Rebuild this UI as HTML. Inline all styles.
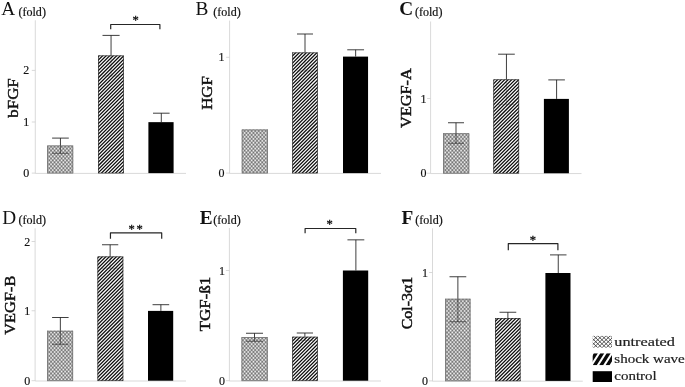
<!DOCTYPE html>
<html><head><meta charset="utf-8"><title>Figure</title>
<style>
html,body{margin:0;padding:0;background:#fff;}
body{width:685px;height:387px;overflow:hidden;}
svg{display:block;font-family:"Liberation Serif",serif;filter:blur(0.45px);}
</style></head><body>
<svg width="685" height="387" viewBox="0 0 685 387">
<rect width="685" height="387" fill="#fff"/>

<g id="panelA">
<path d="M35.3 20.3V173.4H186" fill="none" stroke="#cfcfcf" stroke-width="0.8"/>
<path d="M31.799999999999997 70.4H35.3" stroke="#cfcfcf" stroke-width="0.8"/>
<text x="29.3" y="74.4" font-size="12" text-anchor="end" fill="#111" stroke="#111" stroke-width="0.15">2</text>
<path d="M31.799999999999997 122H35.3" stroke="#cfcfcf" stroke-width="0.8"/>
<text x="29.3" y="126.0" font-size="12" text-anchor="end" fill="#111" stroke="#111" stroke-width="0.15">1</text>
<path d="M31.799999999999997 173.1H35.3" stroke="#cfcfcf" stroke-width="0.8"/>
<text x="29.3" y="177.1" font-size="12" text-anchor="end" fill="#111" stroke="#111" stroke-width="0.15">0</text>
<text x="1.3" y="15.0" font-size="19.3" font-weight="normal" fill="#111">A</text>
<text x="18.5" y="16.2" font-size="12.5" textLength="27.4" lengthAdjust="spacingAndGlyphs" fill="#111" stroke="#111" stroke-width="0.2">(fold)</text>
<text transform="translate(17.6 117.65) rotate(-90)" font-size="14" textLength="39.3" lengthAdjust="spacingAndGlyphs" fill="#111" stroke="#111" stroke-width="0.45">bFGF</text>
<clipPath id="cA0"><rect x="47.1" y="145.5" width="26.1" height="27.6"/></clipPath>
<rect x="47.1" y="145.5" width="26.1" height="27.6" fill="#efefef"/>
<path clip-path="url(#cA0)" d="M42.43 144.5L15.79 174.1M45.95 144.5L19.31 174.1M49.47 144.5L22.83 174.1M52.99 144.5L26.35 174.1M56.51 144.5L29.87 174.1M60.03 144.5L33.39 174.1M63.55 144.5L36.91 174.1M67.07 144.5L40.43 174.1M70.59 144.5L43.95 174.1M74.11 144.5L47.47 174.1M77.63 144.5L50.99 174.1M81.15 144.5L54.51 174.1M84.67 144.5L58.03 174.1M88.19 144.5L61.55 174.1M91.71 144.5L65.07 174.1M95.23 144.5L68.59 174.1M98.75 144.5L72.11 174.1M102.27 144.5L75.63 174.1" stroke="#000" stroke-opacity="0.31" stroke-width="1.3" fill="none"/>
<path clip-path="url(#cA0)" d="M17.41 144.5L44.05 174.1M20.93 144.5L47.57 174.1M24.45 144.5L51.09 174.1M27.97 144.5L54.61 174.1M31.49 144.5L58.13 174.1M35.01 144.5L61.65 174.1M38.53 144.5L65.17 174.1M42.05 144.5L68.69 174.1M45.57 144.5L72.21 174.1M49.09 144.5L75.73 174.1M52.61 144.5L79.25 174.1M56.13 144.5L82.77 174.1M59.65 144.5L86.29 174.1M63.17 144.5L89.81 174.1M66.69 144.5L93.33 174.1M70.21 144.5L96.85 174.1M73.73 144.5L100.37 174.1" stroke="#000" stroke-opacity="0.31" stroke-width="1.3" fill="none"/>
<rect x="47.55" y="145.95" width="25.2" height="27.15" fill="none" stroke="#7a7a7a" stroke-width="0.9"/>
<path d="M52.1 138.1H68.8M60.45 138.1V145.5" stroke="#1c1c1c" stroke-width="0.85" fill="none"/>
<path d="M52.1 153.25H68.8M60.45 145.5V153.25" stroke="#1c1c1c" stroke-width="0.85" fill="none" opacity="0.7"/>
<clipPath id="cA1"><rect x="98" y="55.5" width="25.8" height="117.6"/></clipPath>
<rect x="98" y="55.5" width="25.8" height="117.6" fill="#fbfbfb"/>
<path clip-path="url(#cA1)" d="M93.34 54.5L-26.26 174.1M96.86 54.5L-22.74 174.1M100.38 54.5L-19.22 174.1M103.9 54.5L-15.7 174.1M107.42 54.5L-12.18 174.1M110.94 54.5L-8.66 174.1M114.46 54.5L-5.14 174.1M117.98 54.5L-1.62 174.1M121.5 54.5L1.9 174.1M125.02 54.5L5.42 174.1M128.54 54.5L8.94 174.1M132.06 54.5L12.46 174.1M135.58 54.5L15.98 174.1M139.1 54.5L19.5 174.1M142.62 54.5L23.02 174.1M146.14 54.5L26.54 174.1M149.66 54.5L30.06 174.1M153.18 54.5L33.58 174.1M156.7 54.5L37.1 174.1M160.22 54.5L40.62 174.1M163.74 54.5L44.14 174.1M167.26 54.5L47.66 174.1M170.78 54.5L51.18 174.1M174.3 54.5L54.7 174.1M177.82 54.5L58.22 174.1M181.34 54.5L61.74 174.1M184.86 54.5L65.26 174.1M188.38 54.5L68.78 174.1M191.9 54.5L72.3 174.1M195.42 54.5L75.82 174.1M198.94 54.5L79.34 174.1M202.46 54.5L82.86 174.1M205.98 54.5L86.38 174.1M209.5 54.5L89.9 174.1M213.02 54.5L93.42 174.1M216.54 54.5L96.94 174.1M220.06 54.5L100.46 174.1M223.58 54.5L103.98 174.1M227.1 54.5L107.5 174.1M230.62 54.5L111.02 174.1M234.14 54.5L114.54 174.1M237.66 54.5L118.06 174.1M241.18 54.5L121.58 174.1M244.7 54.5L125.1 174.1" stroke="#0c0c0c" stroke-width="1.24" fill="none"/>
<rect x="98.35" y="55.85" width="25.1" height="117.25" fill="none" stroke="#333" stroke-width="0.7"/>
<path d="M102.5 35.4H119.6M111.05 35.4V55.5" stroke="#1c1c1c" stroke-width="0.85" fill="none"/>
<path d="M102.5 76H119.6M111.05 55.5V76" stroke="#1c1c1c" stroke-width="0.85" fill="none" opacity="0.3"/>
<rect x="148.4" y="122.15" width="25.2" height="50.95" fill="#000"/>
<path d="M153 113.2H169.6M161.3 113.2V122.15" stroke="#1c1c1c" stroke-width="0.85" fill="none"/>
<path d="M110.7 29.3V24.5H159.9V29.3" fill="none" stroke="#262626" stroke-width="1.2" stroke-linejoin="round"/>
<text x="135.5" y="24.4" font-size="12.5" text-anchor="middle" fill="#111" stroke="#111" stroke-width="0.35">*</text>
</g>
<g id="panelB">
<path d="M229.6 20.6V173.4H381" fill="none" stroke="#cfcfcf" stroke-width="0.8"/>
<path d="M226.1 57.3H229.6" stroke="#cfcfcf" stroke-width="0.8"/>
<text x="224.4" y="61.3" font-size="12" text-anchor="end" fill="#111" stroke="#111" stroke-width="0.15">1</text>
<path d="M226.1 173.1H229.6" stroke="#cfcfcf" stroke-width="0.8"/>
<text x="224.4" y="177.1" font-size="12" text-anchor="end" fill="#111" stroke="#111" stroke-width="0.15">0</text>
<text x="195.5" y="15.1" font-size="19.3" font-weight="normal" fill="#111">B</text>
<text x="213.3" y="16.2" font-size="12.5" textLength="27.4" lengthAdjust="spacingAndGlyphs" fill="#111" stroke="#111" stroke-width="0.2">(fold)</text>
<text transform="translate(212.4 109.8) rotate(-90)" font-size="14" textLength="33.6" lengthAdjust="spacingAndGlyphs" fill="#111" stroke="#111" stroke-width="0.45">HGF</text>
<clipPath id="cB0"><rect x="241.75" y="129.5" width="26.25" height="43.6"/></clipPath>
<rect x="241.75" y="129.5" width="26.25" height="43.6" fill="#efefef"/>
<path clip-path="url(#cB0)" d="M236.35 128.5L195.31 174.1M239.87 128.5L198.83 174.1M243.39 128.5L202.35 174.1M246.91 128.5L205.87 174.1M250.43 128.5L209.39 174.1M253.95 128.5L212.91 174.1M257.47 128.5L216.43 174.1M260.99 128.5L219.95 174.1M264.51 128.5L223.47 174.1M268.03 128.5L226.99 174.1M271.55 128.5L230.51 174.1M275.07 128.5L234.03 174.1M278.59 128.5L237.55 174.1M282.11 128.5L241.07 174.1M285.63 128.5L244.59 174.1M289.15 128.5L248.11 174.1M292.67 128.5L251.63 174.1M296.19 128.5L255.15 174.1M299.71 128.5L258.67 174.1M303.23 128.5L262.19 174.1M306.75 128.5L265.71 174.1M310.27 128.5L269.23 174.1" stroke="#000" stroke-opacity="0.31" stroke-width="1.3" fill="none"/>
<path clip-path="url(#cB0)" d="M196.61 128.5L237.65 174.1M200.13 128.5L241.17 174.1M203.65 128.5L244.69 174.1M207.17 128.5L248.21 174.1M210.69 128.5L251.73 174.1M214.21 128.5L255.25 174.1M217.73 128.5L258.77 174.1M221.25 128.5L262.29 174.1M224.77 128.5L265.81 174.1M228.29 128.5L269.33 174.1M231.81 128.5L272.85 174.1M235.33 128.5L276.37 174.1M238.85 128.5L279.89 174.1M242.37 128.5L283.41 174.1M245.89 128.5L286.93 174.1M249.41 128.5L290.45 174.1M252.93 128.5L293.97 174.1M256.45 128.5L297.49 174.1M259.97 128.5L301.01 174.1M263.49 128.5L304.53 174.1M267.01 128.5L308.05 174.1M270.53 128.5L311.57 174.1" stroke="#000" stroke-opacity="0.31" stroke-width="1.3" fill="none"/>
<rect x="242.2" y="129.95" width="25.35" height="43.15" fill="none" stroke="#7a7a7a" stroke-width="0.9"/>
<clipPath id="cB1"><rect x="292.25" y="52.5" width="25.5" height="120.6"/></clipPath>
<rect x="292.25" y="52.5" width="25.5" height="120.6" fill="#fbfbfb"/>
<path clip-path="url(#cB1)" d="M286.42 51.5L163.82 174.1M289.94 51.5L167.34 174.1M293.46 51.5L170.86 174.1M296.98 51.5L174.38 174.1M300.5 51.5L177.9 174.1M304.02 51.5L181.42 174.1M307.54 51.5L184.94 174.1M311.06 51.5L188.46 174.1M314.58 51.5L191.98 174.1M318.1 51.5L195.5 174.1M321.62 51.5L199.02 174.1M325.14 51.5L202.54 174.1M328.66 51.5L206.06 174.1M332.18 51.5L209.58 174.1M335.7 51.5L213.1 174.1M339.22 51.5L216.62 174.1M342.74 51.5L220.14 174.1M346.26 51.5L223.66 174.1M349.78 51.5L227.18 174.1M353.3 51.5L230.7 174.1M356.82 51.5L234.22 174.1M360.34 51.5L237.74 174.1M363.86 51.5L241.26 174.1M367.38 51.5L244.78 174.1M370.9 51.5L248.3 174.1M374.42 51.5L251.82 174.1M377.94 51.5L255.34 174.1M381.46 51.5L258.86 174.1M384.98 51.5L262.38 174.1M388.5 51.5L265.9 174.1M392.02 51.5L269.42 174.1M395.54 51.5L272.94 174.1M399.06 51.5L276.46 174.1M402.58 51.5L279.98 174.1M406.1 51.5L283.5 174.1M409.62 51.5L287.02 174.1M413.14 51.5L290.54 174.1M416.66 51.5L294.06 174.1M420.18 51.5L297.58 174.1M423.7 51.5L301.1 174.1M427.22 51.5L304.62 174.1M430.74 51.5L308.14 174.1M434.26 51.5L311.66 174.1M437.78 51.5L315.18 174.1M441.3 51.5L318.7 174.1" stroke="#0c0c0c" stroke-width="1.24" fill="none"/>
<rect x="292.6" y="52.85" width="24.8" height="120.25" fill="none" stroke="#333" stroke-width="0.7"/>
<path d="M297 34H313M305.0 34V52.5" stroke="#1c1c1c" stroke-width="0.85" fill="none"/>
<path d="M297 71H313M305.0 52.5V71" stroke="#1c1c1c" stroke-width="0.85" fill="none" opacity="0.3"/>
<rect x="343.0" y="56.6" width="25.05" height="116.5" fill="#000"/>
<path d="M347.25 49.8H364.05M355.65 49.8V56.6" stroke="#1c1c1c" stroke-width="0.85" fill="none"/>
</g>
<g id="panelC">
<path d="M430.6 21.5V173.55H581.5" fill="none" stroke="#cfcfcf" stroke-width="0.8"/>
<path d="M427.1 98.5H430.6" stroke="#cfcfcf" stroke-width="0.8"/>
<text x="426.5" y="102.5" font-size="12" text-anchor="end" fill="#111" stroke="#111" stroke-width="0.15">1</text>
<path d="M427.1 173.25H430.6" stroke="#cfcfcf" stroke-width="0.8"/>
<text x="426.5" y="177.25" font-size="12" text-anchor="end" fill="#111" stroke="#111" stroke-width="0.15">0</text>
<text x="399.3" y="14.6" font-size="19.3" font-weight="bold" fill="#111">C</text>
<text x="415" y="16.2" font-size="12.5" textLength="27.4" lengthAdjust="spacingAndGlyphs" fill="#111" stroke="#111" stroke-width="0.2">(fold)</text>
<text transform="translate(411 128.0) rotate(-90)" font-size="14" textLength="59.8" lengthAdjust="spacingAndGlyphs" fill="#111" stroke="#111" stroke-width="0.45">VEGF-A</text>
<clipPath id="cC0"><rect x="443" y="133.25" width="26.25" height="40.0"/></clipPath>
<rect x="443" y="133.25" width="26.25" height="40.0" fill="#efefef"/>
<path clip-path="url(#cC0)" d="M437.13 132.25L399.33 174.25M440.65 132.25L402.85 174.25M444.17 132.25L406.37 174.25M447.69 132.25L409.89 174.25M451.21 132.25L413.41 174.25M454.73 132.25L416.93 174.25M458.25 132.25L420.45 174.25M461.77 132.25L423.97 174.25M465.29 132.25L427.49 174.25M468.81 132.25L431.01 174.25M472.33 132.25L434.53 174.25M475.85 132.25L438.05 174.25M479.37 132.25L441.57 174.25M482.89 132.25L445.09 174.25M486.41 132.25L448.61 174.25M489.93 132.25L452.13 174.25M493.45 132.25L455.65 174.25M496.97 132.25L459.17 174.25M500.49 132.25L462.69 174.25M504.01 132.25L466.21 174.25M507.53 132.25L469.73 174.25" stroke="#000" stroke-opacity="0.31" stroke-width="1.3" fill="none"/>
<path clip-path="url(#cC0)" d="M400.62 132.25L438.43 174.25M404.14 132.25L441.95 174.25M407.66 132.25L445.47 174.25M411.18 132.25L448.99 174.25M414.7 132.25L452.5 174.25M418.22 132.25L456.02 174.25M421.74 132.25L459.54 174.25M425.26 132.25L463.06 174.25M428.78 132.25L466.58 174.25M432.3 132.25L470.1 174.25M435.82 132.25L473.62 174.25M439.34 132.25L477.14 174.25M442.86 132.25L480.66 174.25M446.38 132.25L484.18 174.25M449.9 132.25L487.7 174.25M453.42 132.25L491.22 174.25M456.94 132.25L494.74 174.25M460.46 132.25L498.26 174.25M463.98 132.25L501.78 174.25M467.5 132.25L505.3 174.25M471.02 132.25L508.82 174.25" stroke="#000" stroke-opacity="0.31" stroke-width="1.3" fill="none"/>
<rect x="443.45" y="133.7" width="25.35" height="39.55" fill="none" stroke="#7a7a7a" stroke-width="0.9"/>
<path d="M448 122.75H464M456.0 122.75V133.25" stroke="#1c1c1c" stroke-width="0.85" fill="none"/>
<path d="M448 143.25H464M456.0 133.25V143.25" stroke="#1c1c1c" stroke-width="0.85" fill="none" opacity="0.7"/>
<clipPath id="cC1"><rect x="493.4" y="79.4" width="25.7" height="93.85"/></clipPath>
<rect x="493.4" y="79.4" width="25.7" height="93.85" fill="#fbfbfb"/>
<path clip-path="url(#cC1)" d="M488.32 78.4L392.47 174.25M491.84 78.4L395.99 174.25M495.36 78.4L399.51 174.25M498.88 78.4L403.03 174.25M502.4 78.4L406.55 174.25M505.92 78.4L410.07 174.25M509.44 78.4L413.59 174.25M512.96 78.4L417.11 174.25M516.48 78.4L420.63 174.25M520.0 78.4L424.15 174.25M523.52 78.4L427.67 174.25M527.04 78.4L431.19 174.25M530.56 78.4L434.71 174.25M534.08 78.4L438.23 174.25M537.6 78.4L441.75 174.25M541.12 78.4L445.27 174.25M544.64 78.4L448.79 174.25M548.16 78.4L452.31 174.25M551.68 78.4L455.83 174.25M555.2 78.4L459.35 174.25M558.72 78.4L462.87 174.25M562.24 78.4L466.39 174.25M565.76 78.4L469.91 174.25M569.28 78.4L473.43 174.25M572.8 78.4L476.95 174.25M576.32 78.4L480.47 174.25M579.84 78.4L483.99 174.25M583.36 78.4L487.51 174.25M586.88 78.4L491.03 174.25M590.4 78.4L494.55 174.25M593.92 78.4L498.07 174.25M597.44 78.4L501.59 174.25M600.96 78.4L505.11 174.25M604.48 78.4L508.63 174.25M608.0 78.4L512.15 174.25M611.52 78.4L515.67 174.25M615.04 78.4L519.19 174.25" stroke="#0c0c0c" stroke-width="1.24" fill="none"/>
<rect x="493.75" y="79.75" width="25.0" height="93.5" fill="none" stroke="#333" stroke-width="0.7"/>
<path d="M498.1 54.2H514.8M506.45 54.2V79.4" stroke="#1c1c1c" stroke-width="0.85" fill="none"/>
<path d="M498.1 104.6H514.8M506.45 79.4V104.6" stroke="#1c1c1c" stroke-width="0.85" fill="none" opacity="0.3"/>
<rect x="543.9" y="98.9" width="25.0" height="74.35" fill="#000"/>
<path d="M548.3 79.9H564.9M556.5999999999999 79.9V98.9" stroke="#1c1c1c" stroke-width="0.85" fill="none"/>
</g>
<g id="panelD">
<path d="M35.1 228.3V381.0H186" fill="none" stroke="#cfcfcf" stroke-width="0.8"/>
<path d="M31.6 241.5H35.1" stroke="#cfcfcf" stroke-width="0.8"/>
<text x="30.2" y="245.5" font-size="12" text-anchor="end" fill="#111" stroke="#111" stroke-width="0.15">2</text>
<path d="M31.6 310.75H35.1" stroke="#cfcfcf" stroke-width="0.8"/>
<text x="30.2" y="314.75" font-size="12" text-anchor="end" fill="#111" stroke="#111" stroke-width="0.15">1</text>
<path d="M31.6 380.7H35.1" stroke="#cfcfcf" stroke-width="0.8"/>
<text x="30.2" y="384.7" font-size="12" text-anchor="end" fill="#111" stroke="#111" stroke-width="0.15">0</text>
<text x="2.3" y="223.9" font-size="19.3" font-weight="normal" fill="#111">D</text>
<text x="18.6" y="224" font-size="12.5" textLength="27.4" lengthAdjust="spacingAndGlyphs" fill="#111" stroke="#111" stroke-width="0.2">(fold)</text>
<text transform="translate(15.4 334.7) rotate(-90)" font-size="14" textLength="59" lengthAdjust="spacingAndGlyphs" fill="#111" stroke="#111" stroke-width="0.45">VEGF-B</text>
<clipPath id="cD0"><rect x="47.1" y="330.75" width="26.0" height="49.95"/></clipPath>
<rect x="47.1" y="330.75" width="26.0" height="49.95" fill="#efefef"/>
<path clip-path="url(#cD0)" d="M41.14 329.75L-5.61 381.7M44.66 329.75L-2.09 381.7M48.18 329.75L1.43 381.7M51.7 329.75L4.95 381.7M55.22 329.75L8.47 381.7M58.74 329.75L11.99 381.7M62.26 329.75L15.51 381.7M65.78 329.75L19.03 381.7M69.3 329.75L22.55 381.7M72.82 329.75L26.07 381.7M76.34 329.75L29.59 381.7M79.86 329.75L33.11 381.7M83.38 329.75L36.63 381.7M86.9 329.75L40.15 381.7M90.42 329.75L43.67 381.7M93.94 329.75L47.19 381.7M97.46 329.75L50.71 381.7M100.98 329.75L54.23 381.7M104.5 329.75L57.75 381.7M108.02 329.75L61.27 381.7M111.54 329.75L64.79 381.7M115.06 329.75L68.31 381.7M118.58 329.75L71.83 381.7M122.1 329.75L75.35 381.7" stroke="#000" stroke-opacity="0.31" stroke-width="1.3" fill="none"/>
<path clip-path="url(#cD0)" d="M-2.42 329.75L44.33 381.7M1.1 329.75L47.85 381.7M4.62 329.75L51.37 381.7M8.13 329.75L54.89 381.7M11.65 329.75L58.41 381.7M15.17 329.75L61.93 381.7M18.69 329.75L65.45 381.7M22.21 329.75L68.97 381.7M25.73 329.75L72.49 381.7M29.25 329.75L76.01 381.7M32.77 329.75L79.53 381.7M36.29 329.75L83.05 381.7M39.81 329.75L86.57 381.7M43.33 329.75L90.09 381.7M46.85 329.75L93.61 381.7M50.37 329.75L97.13 381.7M53.89 329.75L100.65 381.7M57.41 329.75L104.17 381.7M60.93 329.75L107.69 381.7M64.45 329.75L111.21 381.7M67.97 329.75L114.73 381.7M71.49 329.75L118.25 381.7M75.01 329.75L121.77 381.7" stroke="#000" stroke-opacity="0.31" stroke-width="1.3" fill="none"/>
<rect x="47.55" y="331.2" width="25.1" height="49.5" fill="none" stroke="#7a7a7a" stroke-width="0.9"/>
<path d="M52.1 317.5H68.6M60.349999999999994 317.5V330.75" stroke="#1c1c1c" stroke-width="0.85" fill="none"/>
<path d="M52.1 344.25H68.6M60.349999999999994 330.75V344.25" stroke="#1c1c1c" stroke-width="0.85" fill="none" opacity="0.7"/>
<clipPath id="cD1"><rect x="97.5" y="256.5" width="25.75" height="124.2"/></clipPath>
<rect x="97.5" y="256.5" width="25.75" height="124.2" fill="#fbfbfb"/>
<path clip-path="url(#cD1)" d="M92.98 255.5L-33.22 381.7M96.5 255.5L-29.7 381.7M100.02 255.5L-26.18 381.7M103.54 255.5L-22.66 381.7M107.06 255.5L-19.14 381.7M110.58 255.5L-15.62 381.7M114.1 255.5L-12.1 381.7M117.62 255.5L-8.58 381.7M121.14 255.5L-5.06 381.7M124.66 255.5L-1.54 381.7M128.18 255.5L1.98 381.7M131.7 255.5L5.5 381.7M135.22 255.5L9.02 381.7M138.74 255.5L12.54 381.7M142.26 255.5L16.06 381.7M145.78 255.5L19.58 381.7M149.3 255.5L23.1 381.7M152.82 255.5L26.62 381.7M156.34 255.5L30.14 381.7M159.86 255.5L33.66 381.7M163.38 255.5L37.18 381.7M166.9 255.5L40.7 381.7M170.42 255.5L44.22 381.7M173.94 255.5L47.74 381.7M177.46 255.5L51.26 381.7M180.98 255.5L54.78 381.7M184.5 255.5L58.3 381.7M188.02 255.5L61.82 381.7M191.54 255.5L65.34 381.7M195.06 255.5L68.86 381.7M198.58 255.5L72.38 381.7M202.1 255.5L75.9 381.7M205.62 255.5L79.42 381.7M209.14 255.5L82.94 381.7M212.66 255.5L86.46 381.7M216.18 255.5L89.98 381.7M219.7 255.5L93.5 381.7M223.22 255.5L97.02 381.7M226.74 255.5L100.54 381.7M230.26 255.5L104.06 381.7M233.78 255.5L107.58 381.7M237.3 255.5L111.1 381.7M240.82 255.5L114.62 381.7M244.34 255.5L118.14 381.7M247.86 255.5L121.66 381.7M251.38 255.5L125.18 381.7" stroke="#0c0c0c" stroke-width="1.24" fill="none"/>
<rect x="97.85" y="256.85" width="25.05" height="123.85" fill="none" stroke="#333" stroke-width="0.7"/>
<path d="M102 244.75H118.25M110.125 244.75V256.5" stroke="#1c1c1c" stroke-width="0.85" fill="none"/>
<path d="M102 268.25H118.25M110.125 256.5V268.25" stroke="#1c1c1c" stroke-width="0.85" fill="none" opacity="0.3"/>
<rect x="148.0" y="310.9" width="25.2" height="69.8" fill="#000"/>
<path d="M152.55 304.7H169.2M160.875 304.7V310.9" stroke="#1c1c1c" stroke-width="0.85" fill="none"/>
<path d="M110.45 238.8V232.9H161.7V238.8" fill="none" stroke="#262626" stroke-width="1.2" stroke-linejoin="round"/>
<text x="136.5" y="232.8" font-size="12.5" text-anchor="middle" fill="#111" stroke="#111" stroke-width="0.35" letter-spacing="1.65">**</text>
</g>
<g id="panelE">
<path d="M229.4 228V381.0H381" fill="none" stroke="#cfcfcf" stroke-width="0.8"/>
<path d="M225.9 270.5H229.4" stroke="#cfcfcf" stroke-width="0.8"/>
<text x="224.9" y="274.5" font-size="12" text-anchor="end" fill="#111" stroke="#111" stroke-width="0.15">1</text>
<path d="M225.9 380.7H229.4" stroke="#cfcfcf" stroke-width="0.8"/>
<text x="224.9" y="384.7" font-size="12" text-anchor="end" fill="#111" stroke="#111" stroke-width="0.15">0</text>
<text x="199.8" y="223.6" font-size="19.3" font-weight="bold" fill="#111">E</text>
<text x="213.3" y="224" font-size="12.5" textLength="27.4" lengthAdjust="spacingAndGlyphs" fill="#111" stroke="#111" stroke-width="0.2">(fold)</text>
<text transform="translate(210.3 331.35) rotate(-90)" font-size="14" textLength="54.7" lengthAdjust="spacingAndGlyphs" fill="#111" stroke="#111" stroke-width="0.45">TGF-ß1</text>
<clipPath id="cE0"><rect x="241.5" y="337" width="26.25" height="43.7"/></clipPath>
<rect x="241.5" y="337" width="26.25" height="43.7" fill="#efefef"/>
<path clip-path="url(#cE0)" d="M236.16 336L195.03 381.7M239.68 336L198.55 381.7M243.2 336L202.07 381.7M246.72 336L205.59 381.7M250.24 336L209.11 381.7M253.76 336L212.63 381.7M257.28 336L216.15 381.7M260.8 336L219.67 381.7M264.32 336L223.19 381.7M267.84 336L226.71 381.7M271.36 336L230.23 381.7M274.88 336L233.75 381.7M278.4 336L237.27 381.7M281.92 336L240.79 381.7M285.44 336L244.31 381.7M288.96 336L247.83 381.7M292.48 336L251.35 381.7M296.0 336L254.87 381.7M299.52 336L258.39 381.7M303.04 336L261.91 381.7M306.56 336L265.43 381.7M310.08 336L268.95 381.7" stroke="#000" stroke-opacity="0.31" stroke-width="1.3" fill="none"/>
<path clip-path="url(#cE0)" d="M196.8 336L237.93 381.7M200.32 336L241.45 381.7M203.84 336L244.97 381.7M207.36 336L248.49 381.7M210.88 336L252.01 381.7M214.4 336L255.53 381.7M217.92 336L259.05 381.7M221.44 336L262.57 381.7M224.96 336L266.09 381.7M228.48 336L269.61 381.7M232.0 336L273.13 381.7M235.52 336L276.65 381.7M239.04 336L280.17 381.7M242.56 336L283.69 381.7M246.08 336L287.21 381.7M249.6 336L290.73 381.7M253.12 336L294.25 381.7M256.64 336L297.77 381.7M260.16 336L301.29 381.7M263.68 336L304.81 381.7M267.2 336L308.33 381.7" stroke="#000" stroke-opacity="0.31" stroke-width="1.3" fill="none"/>
<rect x="241.95" y="337.45" width="25.35" height="43.25" fill="none" stroke="#7a7a7a" stroke-width="0.9"/>
<path d="M246 333.25H263M254.5 333.25V337" stroke="#1c1c1c" stroke-width="0.85" fill="none"/>
<path d="M246 341.25H263M254.5 337V341.25" stroke="#1c1c1c" stroke-width="0.85" fill="none" opacity="0.7"/>
<clipPath id="cE1"><rect x="292.25" y="336.75" width="25.5" height="43.95"/></clipPath>
<rect x="292.25" y="336.75" width="25.5" height="43.95" fill="#fbfbfb"/>
<path clip-path="url(#cE1)" d="M287.29 335.75L241.34 381.7M290.81 335.75L244.86 381.7M294.33 335.75L248.38 381.7M297.85 335.75L251.9 381.7M301.37 335.75L255.42 381.7M304.89 335.75L258.94 381.7M308.41 335.75L262.46 381.7M311.93 335.75L265.98 381.7M315.45 335.75L269.5 381.7M318.97 335.75L273.02 381.7M322.49 335.75L276.54 381.7M326.01 335.75L280.06 381.7M329.53 335.75L283.58 381.7M333.05 335.75L287.1 381.7M336.57 335.75L290.62 381.7M340.09 335.75L294.14 381.7M343.61 335.75L297.66 381.7M347.13 335.75L301.18 381.7M350.65 335.75L304.7 381.7M354.17 335.75L308.22 381.7M357.69 335.75L311.74 381.7M361.21 335.75L315.26 381.7M364.73 335.75L318.78 381.7" stroke="#0c0c0c" stroke-width="1.24" fill="none"/>
<rect x="292.6" y="337.1" width="24.8" height="43.6" fill="none" stroke="#333" stroke-width="0.7"/>
<path d="M296.75 333H313M304.875 333V336.75" stroke="#1c1c1c" stroke-width="0.85" fill="none"/>
<path d="M296.75 340.5H313M304.875 336.75V340.5" stroke="#1c1c1c" stroke-width="0.85" fill="none" opacity="0.3"/>
<rect x="342.9" y="270.5" width="25.3" height="110.2" fill="#000"/>
<path d="M347.45 239.85H364.3M355.875 239.85V270.5" stroke="#1c1c1c" stroke-width="0.85" fill="none"/>
<path d="M305.1 233.3V228.5H355.8V233.3" fill="none" stroke="#262626" stroke-width="1.2" stroke-linejoin="round"/>
<text x="329.6" y="228.4" font-size="12.5" text-anchor="middle" fill="#111" stroke="#111" stroke-width="0.35">*</text>
</g>
<g id="panelF">
<path d="M432.5 228.3V381.2H582.75" fill="none" stroke="#cfcfcf" stroke-width="0.8"/>
<path d="M429.0 272.5H432.5" stroke="#cfcfcf" stroke-width="0.8"/>
<text x="428" y="276.5" font-size="12" text-anchor="end" fill="#111" stroke="#111" stroke-width="0.15">1</text>
<path d="M429.0 380.9H432.5" stroke="#cfcfcf" stroke-width="0.8"/>
<text x="428" y="384.9" font-size="12" text-anchor="end" fill="#111" stroke="#111" stroke-width="0.15">0</text>
<text x="401.5" y="223.9" font-size="19.3" font-weight="bold" fill="#111">F</text>
<text x="415.3" y="224" font-size="12.5" textLength="27.4" lengthAdjust="spacingAndGlyphs" fill="#111" stroke="#111" stroke-width="0.2">(fold)</text>
<text transform="translate(412.3 329.35) rotate(-90)" font-size="14" textLength="52.7" lengthAdjust="spacingAndGlyphs" fill="#111" stroke="#111" stroke-width="0.45">Col-3α1</text>
<clipPath id="cF0"><rect x="445" y="298.75" width="25.5" height="82.15"/></clipPath>
<rect x="445" y="298.75" width="25.5" height="82.15" fill="#efefef"/>
<path clip-path="url(#cF0)" d="M439.54 297.75L363.81 381.9M443.06 297.75L367.33 381.9M446.58 297.75L370.85 381.9M450.1 297.75L374.37 381.9M453.62 297.75L377.89 381.9M457.14 297.75L381.41 381.9M460.66 297.75L384.93 381.9M464.18 297.75L388.45 381.9M467.7 297.75L391.97 381.9M471.22 297.75L395.49 381.9M474.74 297.75L399.01 381.9M478.26 297.75L402.53 381.9M481.78 297.75L406.05 381.9M485.3 297.75L409.57 381.9M488.82 297.75L413.09 381.9M492.34 297.75L416.61 381.9M495.86 297.75L420.13 381.9M499.38 297.75L423.65 381.9M502.9 297.75L427.17 381.9M506.42 297.75L430.69 381.9M509.94 297.75L434.21 381.9M513.46 297.75L437.73 381.9M516.98 297.75L441.25 381.9M520.5 297.75L444.77 381.9M524.02 297.75L448.29 381.9M527.54 297.75L451.81 381.9M531.06 297.75L455.33 381.9M534.58 297.75L458.85 381.9M538.1 297.75L462.37 381.9M541.62 297.75L465.89 381.9M545.14 297.75L469.41 381.9M548.66 297.75L472.93 381.9" stroke="#000" stroke-opacity="0.31" stroke-width="1.3" fill="none"/>
<path clip-path="url(#cF0)" d="M366.54 297.75L442.27 381.9M370.06 297.75L445.79 381.9M373.58 297.75L449.31 381.9M377.1 297.75L452.83 381.9M380.62 297.75L456.35 381.9M384.13 297.75L459.87 381.9M387.65 297.75L463.39 381.9M391.18 297.75L466.91 381.9M394.69 297.75L470.43 381.9M398.22 297.75L473.95 381.9M401.74 297.75L477.47 381.9M405.25 297.75L480.99 381.9M408.78 297.75L484.51 381.9M412.3 297.75L488.03 381.9M415.82 297.75L491.55 381.9M419.34 297.75L495.07 381.9M422.86 297.75L498.59 381.9M426.38 297.75L502.11 381.9M429.9 297.75L505.63 381.9M433.42 297.75L509.15 381.9M436.94 297.75L512.67 381.9M440.46 297.75L516.19 381.9M443.98 297.75L519.71 381.9M447.5 297.75L523.23 381.9M451.02 297.75L526.75 381.9M454.54 297.75L530.27 381.9M458.06 297.75L533.79 381.9M461.58 297.75L537.31 381.9M465.1 297.75L540.83 381.9M468.62 297.75L544.35 381.9M472.14 297.75L547.87 381.9" stroke="#000" stroke-opacity="0.31" stroke-width="1.3" fill="none"/>
<rect x="445.45" y="299.2" width="24.6" height="81.7" fill="none" stroke="#7a7a7a" stroke-width="0.9"/>
<path d="M449.5 276.75H466.25M457.875 276.75V298.75" stroke="#1c1c1c" stroke-width="0.85" fill="none"/>
<path d="M449.5 321.75H466.25M457.875 298.75V321.75" stroke="#1c1c1c" stroke-width="0.85" fill="none" opacity="0.7"/>
<clipPath id="cF1"><rect x="495" y="318" width="25.5" height="62.9"/></clipPath>
<rect x="495" y="318" width="25.5" height="62.9" fill="#fbfbfb"/>
<path clip-path="url(#cF1)" d="M489.08 317L424.18 381.9M492.6 317L427.7 381.9M496.12 317L431.22 381.9M499.64 317L434.74 381.9M503.16 317L438.26 381.9M506.68 317L441.78 381.9M510.2 317L445.3 381.9M513.72 317L448.82 381.9M517.24 317L452.34 381.9M520.76 317L455.86 381.9M524.28 317L459.38 381.9M527.8 317L462.9 381.9M531.32 317L466.42 381.9M534.84 317L469.94 381.9M538.36 317L473.46 381.9M541.88 317L476.98 381.9M545.4 317L480.5 381.9M548.92 317L484.02 381.9M552.44 317L487.54 381.9M555.96 317L491.06 381.9M559.48 317L494.58 381.9M563.0 317L498.1 381.9M566.52 317L501.62 381.9M570.04 317L505.14 381.9M573.56 317L508.66 381.9M577.08 317L512.18 381.9M580.6 317L515.7 381.9M584.12 317L519.22 381.9M587.64 317L522.74 381.9" stroke="#0c0c0c" stroke-width="1.24" fill="none"/>
<rect x="495.35" y="318.35" width="24.8" height="62.55" fill="none" stroke="#333" stroke-width="0.7"/>
<path d="M499.5 312.25H516.25M507.875 312.25V318" stroke="#1c1c1c" stroke-width="0.85" fill="none"/>
<path d="M499.5 323.75H516.25M507.875 318V323.75" stroke="#1c1c1c" stroke-width="0.85" fill="none" opacity="0.3"/>
<rect x="545.4" y="273.0" width="25.1" height="107.9" fill="#000"/>
<path d="M550 254.9H566.5M558.25 254.9V273.0" stroke="#1c1c1c" stroke-width="0.85" fill="none"/>
<path d="M508.3 250.2V243.6H557.9V250.2" fill="none" stroke="#262626" stroke-width="1.2" stroke-linejoin="round"/>
<text x="532.9" y="243.5" font-size="12.5" text-anchor="middle" fill="#111" stroke="#111" stroke-width="0.35">*</text>
</g>
<g id="legend">
<clipPath id="cl1"><rect x="592.7" y="335.8" width="19.3" height="11.9"/></clipPath>
<path clip-path="url(#cl1)" d="M577.1 335.8l12.35 11.9M589.45 335.8l-12.35 11.9M581.25 335.8l12.35 11.9M593.6 335.8l-12.35 11.9M585.4 335.8l12.35 11.9M597.75 335.8l-12.35 11.9M589.55 335.8l12.35 11.9M601.9 335.8l-12.35 11.9M593.7 335.8l12.35 11.9M606.05 335.8l-12.35 11.9M597.85 335.8l12.35 11.9M610.2 335.8l-12.35 11.9M602.0 335.8l12.35 11.9M614.35 335.8l-12.35 11.9M606.15 335.8l12.35 11.9M618.5 335.8l-12.35 11.9M610.3 335.8l12.35 11.9M622.65 335.8l-12.35 11.9M614.45 335.8l12.35 11.9M626.8 335.8l-12.35 11.9M618.6 335.8l12.35 11.9M630.95 335.8l-12.35 11.9M622.75 335.8l12.35 11.9M635.1 335.8l-12.35 11.9" stroke="#3c3c3c" stroke-width="0.85" fill="none"/>
<clipPath id="cl2"><rect x="592.7" y="353.3" width="19.3" height="12"/></clipPath>
<path clip-path="url(#cl2)" d="M586.3 365.3l7.6 -12h4.0l-7.6 12zM592.7 365.3l7.6 -12h4.0l-7.6 12zM599.1 365.3l7.6 -12h4.0l-7.6 12zM605.5 365.3l7.6 -12h4.0l-7.6 12zM611.9 365.3l7.6 -12h4.0l-7.6 12z" fill="#0a0a0a"/>
<rect x="592.7" y="371.2" width="19.3" height="10.8" fill="#000"/>
<text x="614.3" y="345.5" font-size="13.5" stroke="#222" stroke-width="0.2" textLength="60.5" lengthAdjust="spacingAndGlyphs" fill="#222">untreated</text>
<text x="614.3" y="362.7" font-size="13.5" stroke="#222" stroke-width="0.2" textLength="70.5" lengthAdjust="spacingAndGlyphs" fill="#222">shock wave</text>
<text x="614.3" y="380" font-size="13.5" stroke="#222" stroke-width="0.2" textLength="42.4" lengthAdjust="spacingAndGlyphs" fill="#222">control</text>
</g>
</svg></body></html>
